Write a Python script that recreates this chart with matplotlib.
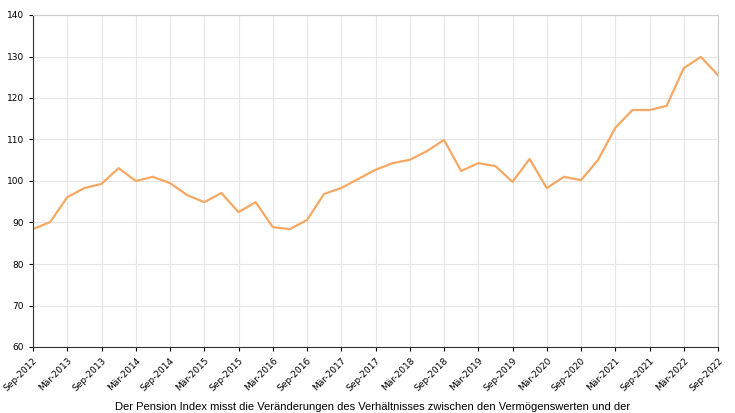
import matplotlib
matplotlib.use("Agg")
import matplotlib.pyplot as plt

values = [88.4, 90.1, 96.1, 98.3, 99.3, 103.1, 100.0, 101.0, 99.5, 96.6, 94.9, 97.1,
          92.5, 94.9, 88.9, 88.4, 90.6, 96.9, 98.3, 100.5, 102.7, 104.3, 105.1, 107.2,
          109.9, 102.4, 104.3, 103.6, 99.8, 105.3, 98.3, 101.0, 100.2, 105.1, 112.8,
          117.1, 117.1, 118.1, 127.2, 129.9, 125.5]
tick_labels = []
for y in range(2012, 2023):
    if y > 2012:
        tick_labels.append(f"Mär-{y}")
    tick_labels.append(f"Sep-{y}")

fig = plt.figure(figsize=(7.35, 4.13), dpi=100)
ax = fig.add_axes([33/735, 1-347/413, (718-33)/735, (347-15)/413])
x = list(range(len(values)))
ax.plot(x, values, color="#f5a864", lw=1.6)
ax.set_xlim(0, len(values)-1)
ax.set_ylim(60, 140)
ax.set_yticks(range(60, 141, 10))
ax.set_xticks(list(range(0, len(values), 2)))
ax.set_xticklabels(tick_labels, rotation=45, ha="right", rotation_mode="anchor", fontsize=6.5)
ax.tick_params(axis="y", labelsize=6.5, length=3)
ax.tick_params(axis="x", length=3)
ax.grid(True, color="#e6e6e6", lw=0.8)
ax.set_axisbelow(True)
for s in ["top", "right"]:
    ax.spines[s].set_color("#cccccc")
for s in ["left", "bottom"]:
    ax.spines[s].set_color("#333333")
fig.text(373/735, 1-407/413, "Der Pension Index misst die Veränderungen des Verhältnisses zwischen den Vermögenswerten und der",
         ha="center", va="center", fontsize=8, family="Liberation Sans")
fig.savefig("out.png", dpi=100)
